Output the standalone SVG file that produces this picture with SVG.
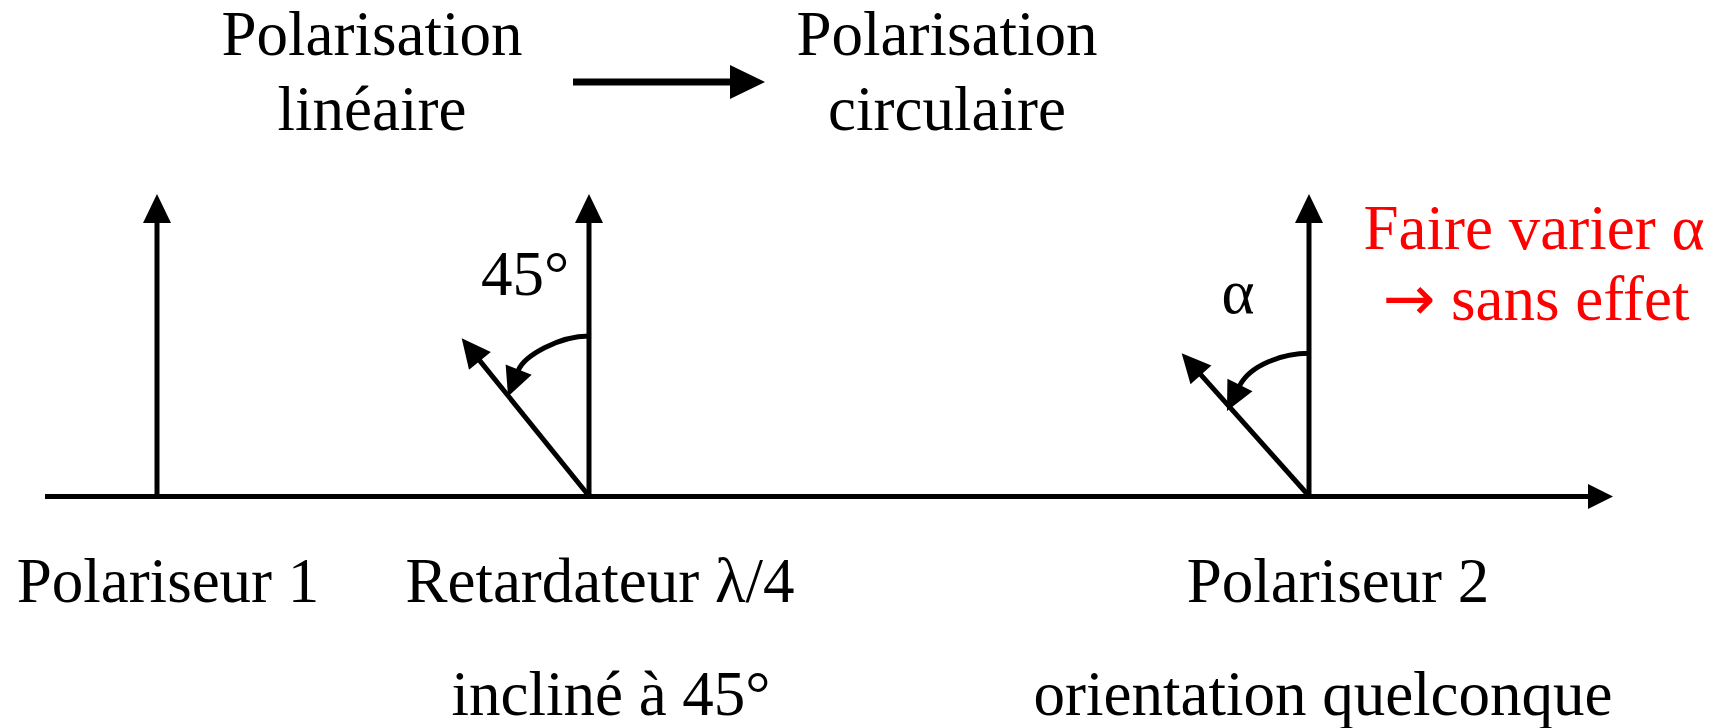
<svg xmlns="http://www.w3.org/2000/svg" width="1724" height="728" viewBox="0 0 1724 728">
<style>
text{font-family:"Liberation Serif","Times New Roman",serif;font-size:63px;fill:#000}
.mid{text-anchor:middle}
.red{fill:#ff0000}
.sym{font-family:"DejaVu Sans",sans-serif}
.ln{stroke:#000;stroke-width:5;fill:none}
</style>
<defs>
<marker id="hd" markerUnits="userSpaceOnUse" markerWidth="30" markerHeight="30" refX="1" refY="0" orient="auto" overflow="visible"><path d="M0,-14 L29,0 L0,14 z" fill="#000"/></marker>
<marker id="hdAxis" markerUnits="userSpaceOnUse" markerWidth="26" markerHeight="26" refX="1" refY="0" orient="auto" overflow="visible"><path d="M0,-12.5 L25,0 L0,12.5 z" fill="#000"/></marker>
<marker id="hdTop" markerUnits="userSpaceOnUse" markerWidth="36" markerHeight="36" refX="1" refY="0" orient="auto" overflow="visible"><path d="M0,-17 L35,0 L0,17 z" fill="#000"/></marker>
</defs>

<g id="connectors">
<line id="axis" class="ln" x1="45" y1="496.5" x2="1589" y2="496.5" marker-end="url(#hdAxis)"/>
<line id="top-arrow" x1="573" y1="82" x2="731" y2="82" stroke="#000" stroke-width="7" marker-end="url(#hdTop)"/>
<line id="p1-vertical" class="ln" x1="157" y1="496.5" x2="157" y2="222" marker-end="url(#hd)"/>
<line id="r-vertical" class="ln" x1="589" y1="496.5" x2="589" y2="222" marker-end="url(#hd)"/>
<line id="r-diagonal" class="ln" x1="589" y1="496" x2="479.3" y2="360.1" marker-end="url(#hd)"/>
<path id="r-arc" class="ln" d="M589,336 C559,336 524,356 518.3,370.5" marker-end="url(#hd)"/>
<line id="p2-vertical" class="ln" x1="1309" y1="496.5" x2="1309" y2="222" marker-end="url(#hd)"/>
<line id="p2-diagonal" class="ln" x1="1309" y1="496" x2="1200.3" y2="374.2" marker-end="url(#hd)"/>
<path id="p2-arc" class="ln" d="M1309,353.3 C1283,353.3 1250,365 1239.5,386" marker-end="url(#hd)"/>
</g>

<g id="lin-label">
<text class="mid" x="372" y="55">Polarisation</text>
<text class="mid" x="372" y="130">linéaire</text>
</g>
<g id="circ-label">
<text class="mid" x="947" y="55">Polarisation</text>
<text class="mid" x="947" y="130">circulaire</text>
</g>
<g id="polariseur1">
<text class="mid" x="168" y="602">Polariseur 1</text>
</g>
<g id="retardateur">
<text class="mid" x="600" y="602">Retardateur λ/4</text>
<text class="mid" x="611" y="715">incliné à 45°</text>
<text x="481" y="295">45°</text>
</g>
<g id="polariseur2">
<text class="mid" x="1338" y="602">Polariseur 2</text>
<text class="mid" x="1323" y="715">orientation quelconque</text>
<text class="mid" x="1238" y="313">α</text>
</g>
<g id="note">
<text class="mid red" x="1534" y="249">Faire varier α</text>
<text class="mid red" x="1536" y="320"><tspan class="sym">→</tspan> sans effet</text>
</g>
</svg>
